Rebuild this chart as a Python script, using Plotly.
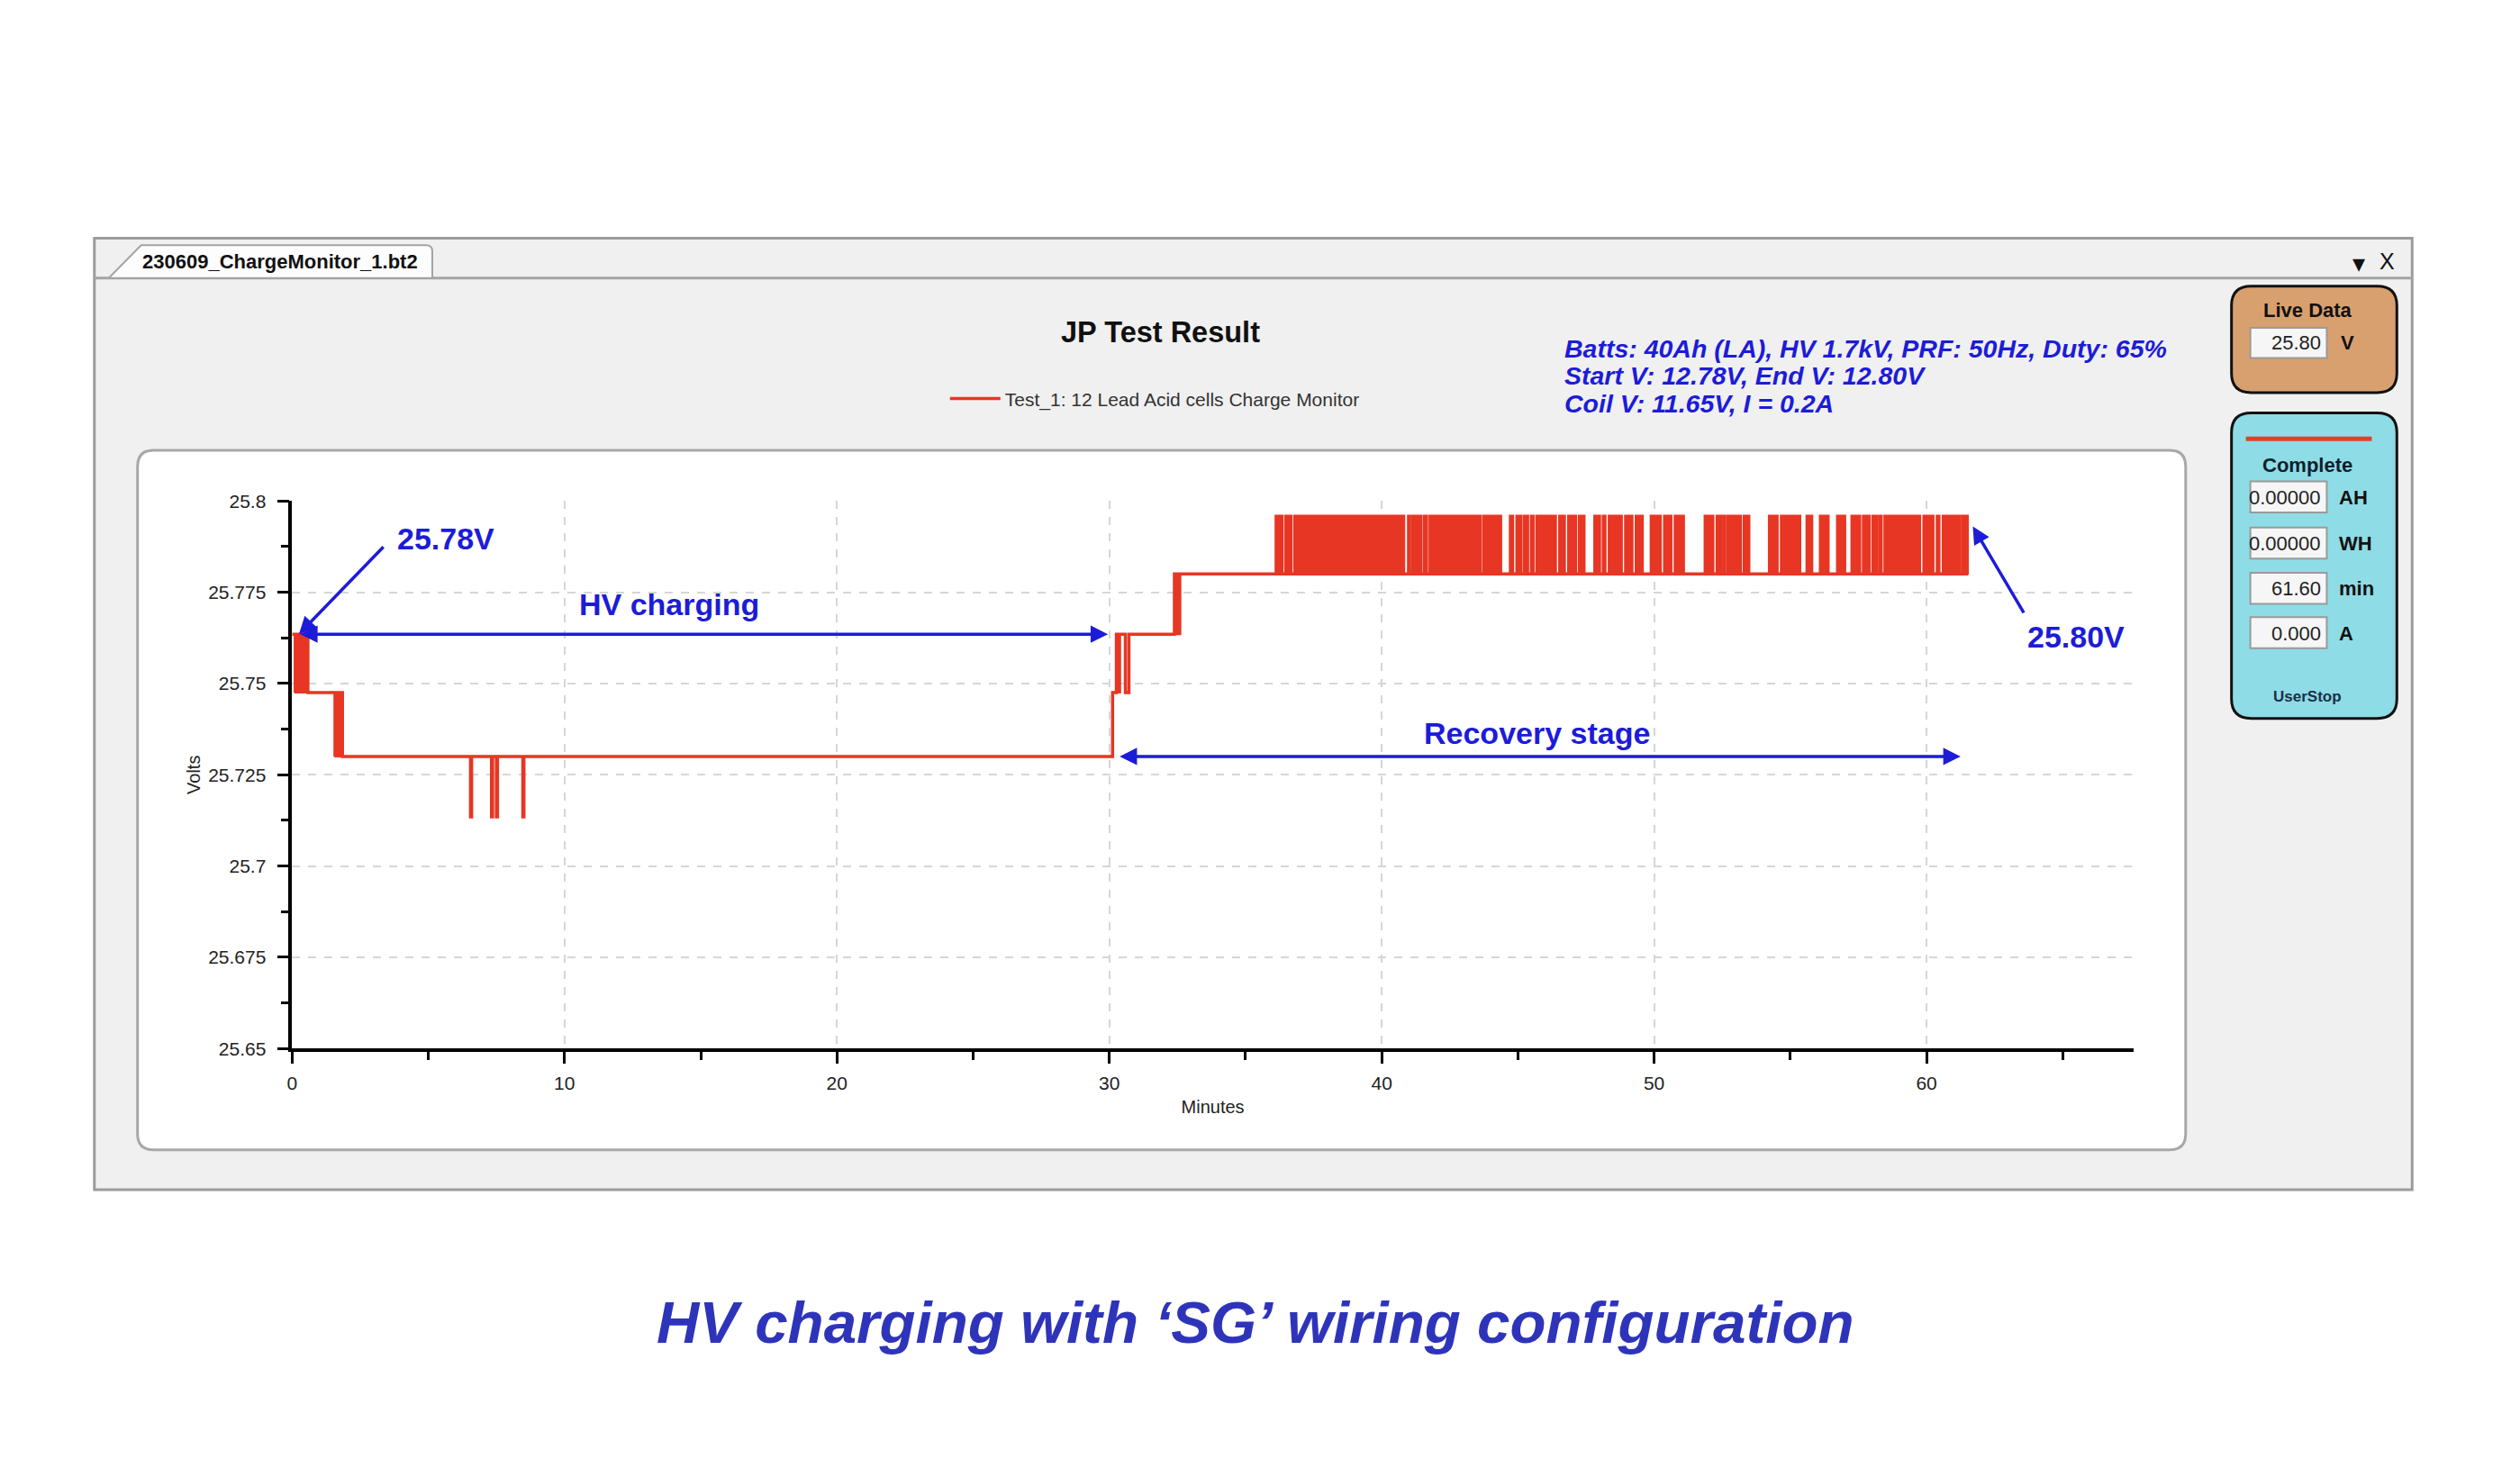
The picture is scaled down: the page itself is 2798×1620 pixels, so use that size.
import plotly.graph_objects as go

# --- data ---
# main voltage trace (step / "hv"), minutes vs volts
main_t = [0.00, 0.58, 1.85, 6.55, 6.59, 7.32, 7.36, 7.50, 7.54, 8.47, 8.51,
          30.12, 30.26, 30.59, 30.72, 32.39, 61.52]
main_v = [25.7635, 25.7475, 25.7300, 25.7135, 25.7300, 25.7135, 25.7300, 25.7135, 25.7300,
          25.7135, 25.7300, 25.7475, 25.7635, 25.7475, 25.7635, 25.7800, 25.7800]

# short stretches where the reading flickers between two adjacent levels
thick_start = [0.09, 1.55, 30.26, 32.39]
thick_end = [0.58, 1.85, 30.40, 32.61]
thick_low = [25.7475, 25.7300, 25.7475, 25.7635]
thick_high = [25.7635, 25.7475, 25.7635, 25.7800]

# recovery stage flicker bursts between 25.780 and 25.796
noise_low = 25.7800
noise_high = 25.7960
noise_start = [36.10, 36.28, 36.45, 36.78, 40.96, 41.12, 41.53, 41.75, 43.73, 44.70, 44.94,
               45.22, 45.47, 45.67, 46.51, 46.84, 47.23, 47.80, 48.11, 48.33, 48.93, 49.32,
               49.87, 50.36, 50.75, 51.85, 52.29, 52.54, 52.67, 53.28, 54.21, 54.65, 55.59,
               56.08, 56.71, 57.24, 57.66, 58.01, 58.28, 58.45, 59.88, 60.37, 60.59, 61.31]
noise_end = [36.23, 36.36, 36.69, 40.83, 41.05, 41.45, 41.67, 43.65, 44.39, 44.83, 45.14,
             45.38, 45.58, 46.40, 46.73, 47.14, 47.45, 48.02, 48.22, 48.82, 49.21, 49.59,
             50.25, 50.64, 51.10, 52.18, 52.49, 52.61, 53.19, 53.50, 54.54, 55.37, 55.81,
             56.41, 57.02, 57.57, 57.92, 58.21, 58.36, 59.77, 60.26, 60.48, 61.25, 61.52]

y_ticks = [25.65, 25.675, 25.7, 25.725, 25.75, 25.775, 25.8]
y_tick_labels = ['25.65', '25.675', '25.7', '25.725', '25.75', '25.775', '25.8']
x_ticks = [0, 10, 20, 30, 40, 50, 60]
x_tick_labels = ['0', '10', '20', '30', '40', '50', '60']

side_values = ['0.00000', '0.00000', '61.60', '0.000']
side_units = ['AH', 'WH', 'min', 'A']
live_value = '25.80'

info_lines = ['Batts: 40Ah (LA), HV 1.7kV, PRF: 50Hz, Duty: 65%',
              'Start V: 12.78V, End V: 12.80V',
              'Coil V: 11.65V, I = 0.2A']

# --- layout helpers (page pixel -> paper); the page body adds an 8px margin ---
OFF = 8
W, H = 2798 - 2 * OFF, 1620 - 2 * OFF
RED = 'rgb(232,54,36)'
BLUE = '#1c1cd8'
FONT = 'Liberation Sans, Arial, sans-serif'


def X(px):
    return (px - OFF) / W


def Y(py):
    return 1 - (py - OFF) / H


def rrect(x0, y0, x1, y1, r):
    return (f"M{X(x0 + r)},{Y(y0)} L{X(x1 - r)},{Y(y0)} Q{X(x1)},{Y(y0)} {X(x1)},{Y(y0 + r)} "
            f"L{X(x1)},{Y(y1 - r)} Q{X(x1)},{Y(y1)} {X(x1 - r)},{Y(y1)} "
            f"L{X(x0 + r)},{Y(y1)} Q{X(x0)},{Y(y1)} {X(x0)},{Y(y1 - r)} "
            f"L{X(x0)},{Y(y0 + r)} Q{X(x0)},{Y(y0)} {X(x0 + r)},{Y(y0)} Z")


def blocks(t0s, t1s, lows, highs):
    xs, ys = [], []
    for a, b, lo, hi in zip(t0s, t1s, lows, highs):
        xs += [a, a, b, b, a, None]
        ys += [lo, hi, hi, lo, lo, None]
    return xs, ys


fig = go.Figure()

fig.add_trace(go.Scatter(x=main_t, y=main_v, mode='lines', line_shape='hv',
                         line=dict(color=RED, width=3.5),
                         name='Test_1: 12 Lead Acid cells Charge Monitor'))

tx, ty = blocks(thick_start, thick_end, thick_low, thick_high)
fig.add_trace(go.Scatter(x=tx, y=ty, mode='lines', fill='toself', fillcolor=RED,
                         line=dict(color=RED, width=2), showlegend=False, hoverinfo='skip'))

nx, ny = blocks(noise_start, noise_end,
                [noise_low] * len(noise_start), [noise_high] * len(noise_start))
fig.add_trace(go.Scatter(x=nx, y=ny, mode='lines', fill='toself', fillcolor=RED,
                         line=dict(color=RED, width=2), showlegend=False, hoverinfo='skip'))

# --- window chrome ---
shapes = []
# outer window
shapes.append(dict(type='rect', xref='paper', yref='paper', x0=X(99), x1=X(2678), y0=Y(1328), y1=Y(256),
                   fillcolor='#f0f0f0', line=dict(color='#9c9c9c', width=3), layer='below'))
# tab strip line
shapes.append(dict(type='line', xref='paper', yref='paper', x0=X(99), x1=X(2678), y0=Y(301), y1=Y(301),
                   line=dict(color='#a4a4a4', width=3), layer='below'))
# tab
shapes.append(dict(type='path', xref='paper', yref='paper',
                   path=(f"M{X(115)},{Y(301)} L{X(151)},{Y(264)} L{X(468)},{Y(264)} "
                         f"Q{X(475)},{Y(264)} {X(475)},{Y(271)} L{X(475)},{Y(301)} Z"),
                   fillcolor='#fdfdfd', line=dict(color='#a4a4a4', width=2), layer='below'))
# white chart panel
shapes.append(dict(type='path', xref='paper', yref='paper', path=rrect(147, 495, 2426, 1283, 18),
                   fillcolor='white', line=dict(color='#a8a8a8', width=3), layer='below'))
# live data box
shapes.append(dict(type='path', xref='paper', yref='paper', path=rrect(2477, 310, 2661, 430, 22),
                   fillcolor='#d9a06f', line=dict(color='#111111', width=3), layer='below'))
shapes.append(dict(type='rect', xref='paper', yref='paper', x0=X(2498), x1=X(2583), y0=Y(391), y1=Y(357),
                   fillcolor='#f6f6f6', line=dict(color='#9a9a9a', width=2), layer='below'))
# complete box
shapes.append(dict(type='path', xref='paper', yref='paper', path=rrect(2477, 453, 2661, 797, 22),
                   fillcolor='#8edce6', line=dict(color='#111111', width=3), layer='below'))
shapes.append(dict(type='line', xref='paper', yref='paper', x0=X(2493), x1=X(2633), y0=Y(482), y1=Y(482),
                   line=dict(color='#e0402a', width=5), layer='below'))
box_tops = [530, 582, 633, 683]
for top in box_tops:
    shapes.append(dict(type='rect', xref='paper', yref='paper', x0=X(2498), x1=X(2583),
                       y0=Y(top + 35), y1=Y(top), fillcolor='#f6f6f6',
                       line=dict(color='#9a9a9a', width=2), layer='below'))

annotations = []


def txt(text, x, y, size, color='#111111', bold=False, italic=False, xanchor='center', family=FONT):
    t = text
    if bold:
        t = f'<b>{t}</b>'
    if italic:
        t = f'<i>{t}</i>'
    annotations.append(dict(text=t, x=X(x), y=Y(y), xref='paper', yref='paper', showarrow=False,
                            xanchor=xanchor, yanchor='middle',
                            font=dict(size=size, color=color, family=family)))


txt('230609_ChargeMonitor_1.bt2', 150, 282, 22, bold=True, xanchor='left')
txt('▾', 2619, 284, 28)
txt('X', 2650, 282, 25)
txt('JP Test Result', 1285, 362, 32.5, bold=True)
for i, line in enumerate(info_lines):
    txt(line, 1733, 380 + 31 * i, 28.5, color=BLUE, bold=True, italic=True, xanchor='left')

txt('Live Data', 2562, 337, 22, bold=True)
txt(live_value, 2579, 374, 22, color='#222222', xanchor='right')
txt('V', 2597, 374, 22, bold=True, xanchor='left')
txt('Complete', 2562, 512, 22, bold=True, color='#0f1e2c')
for top, val, unit in zip(box_tops, side_values, side_units):
    txt(val, 2579, top + 18, 22, color='#222222', xanchor='right')
    txt(unit, 2595, top + 18, 22, bold=True, xanchor='left')
txt('UserStop', 2562, 772, 17, bold=True, color='#1b2f4a')

txt('HV charging with ‘SG’ wiring configuration', 1390, 1478, 65.5, color='#2e34ba', bold=True, italic=True)


# in-plot labels and arrows (data coordinates)
def label(text, x, y):
    annotations.append(dict(text=f'<b>{text}</b>', x=x, y=y, xref='x', yref='y', showarrow=False,
                            font=dict(size=34, color=BLUE, family=FONT)))


def arrow(x0, y0, x1, y1, both=False):
    annotations.append(dict(text='', x=x1, y=y1, ax=x0, ay=y0, xref='x', yref='y', axref='x', ayref='y',
                            showarrow=True, arrowhead=2, arrowsize=1.1, arrowwidth=3.5,
                            arrowcolor=BLUE, arrowside='end+start' if both else 'end', standoff=0))


label('25.78V', 5.65, 25.7898)
arrow(3.4, 25.7878, 0.25, 25.7635)
label('HV charging', 13.83, 25.7716)
arrow(0.25, 25.7635, 29.95, 25.7635, both=True)
label('Recovery stage', 45.7, 25.7365)
arrow(30.33, 25.7300, 61.25, 25.7300, both=True)
label('25.80V', 65.5, 25.7628)
arrow(63.6, 25.769, 61.7, 25.793)

fig.update_layout(
    width=W, height=H, autosize=False,
    margin=dict(l=0, r=0, t=0, b=0),
    paper_bgcolor='white', plot_bgcolor='rgba(0,0,0,0)',
    shapes=shapes, annotations=annotations,
    showlegend=True,
    legend=dict(x=X(1046), y=Y(437), xanchor='left', yanchor='middle', bgcolor='rgba(0,0,0,0)',
                font=dict(size=21, color='#333333', family=FONT), itemwidth=56),
    xaxis=dict(domain=[X(319), X(2368)], range=[0, 67.6], tickvals=x_ticks, ticktext=x_tick_labels,
               showline=True, linecolor='black', linewidth=3.5, ticks='outside', ticklen=13,
               tickwidth=3, tickcolor='black', showgrid=True, gridcolor='#d6d6d6', griddash='dash',
               gridwidth=2, zeroline=False, tickfont=dict(size=21, color='#222222', family=FONT),
               ticklabelstandoff=4,
               minor=dict(tickmode='linear', tick0=0, dtick=5, ticks='outside', ticklen=9,
                          tickwidth=3, tickcolor='black', showgrid=False),
               title=dict(text='Minutes', font=dict(size=20, color='#222222', family=FONT), standoff=10)),
    yaxis=dict(domain=[Y(1169), Y(552)], range=[25.65, 25.8], tickvals=y_ticks, ticktext=y_tick_labels,
               showline=True, linecolor='black', linewidth=3.5, ticks='outside', ticklen=13,
               tickwidth=3, tickcolor='black', showgrid=True, gridcolor='#d6d6d6', griddash='dash',
               gridwidth=2, zeroline=False, tickfont=dict(size=21, color='#222222', family=FONT),
               ticklabelstandoff=8,
               minor=dict(tickmode='linear', tick0=25.65, dtick=0.0125, ticks='outside', ticklen=9,
                          tickwidth=3, tickcolor='black', showgrid=False),
               title=dict(text='Volts', font=dict(size=20, color='#222222', family=FONT), standoff=4)),
)

fig.write_html("out.html")
